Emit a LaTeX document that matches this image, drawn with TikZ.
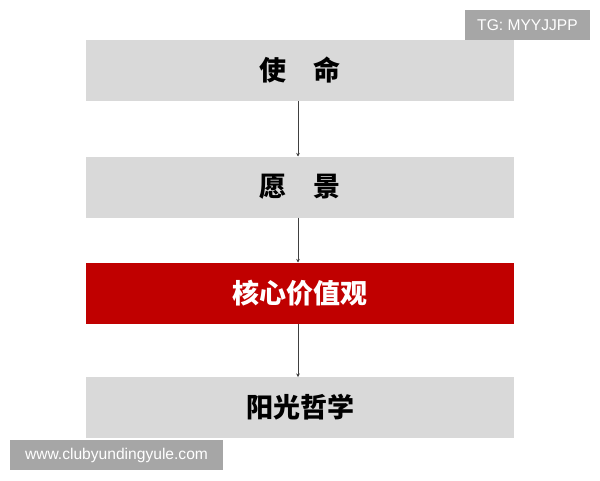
\documentclass[tikz,border=0pt]{standalone}
\usepackage{fontspec}
\setmainfont{Liberation Sans}
\newfontfamily\cjk{Noto Sans CJK SC Black}
\usetikzlibrary{arrows.meta}
\definecolor{boxgray}{HTML}{D9D9D9}
\definecolor{boxred}{HTML}{C00000}
\definecolor{markgray}{HTML}{A6A6A6}
\definecolor{arrowgray}{HTML}{404040}
\begin{document}
\begin{tikzpicture}[x=1pt,y=-1pt,
  band/.style={minimum width=428pt,minimum height=61pt,inner sep=0pt,outer sep=0pt,
    font=\cjk\fontsize{27}{27}\selectfont},
  grayband/.style={band,fill=boxgray,text=black},
  redband/.style={band,fill=boxred,text=white},
  flow/.style={draw=arrowgray,line width=0.9pt,-{Stealth[length=3.5pt,width=3.5pt]}},
  wmark/.style={fill=markgray,text=white,inner sep=0pt,outer sep=0pt,
    font=\fontsize{15.6}{16}\selectfont}]
\useasboundingbox (0,0) rectangle (600,480);
\fill[white] (0,0) rectangle (600,480);
\node[grayband] (mission) at (300,70.5) {使　命};
\node[grayband] (vision) at (300,187) {愿　景};
\node[redband] (values) at (300,293) {核心价值观};
\node[grayband] (philo) at (300,407.5) {阳光哲学};
\draw[flow] (mission.south -| 298,0) -- (vision.north -| 298,0);
\draw[flow] (vision.south -| 298,0) -- (values.north -| 298,0);
\draw[flow] (values.south -| 298,0) -- (philo.north -| 298,0);
\node[wmark,minimum width=125pt,minimum height=30pt] (tg) at (527.5,25) {TG: MYYJJPP};
\node[wmark,minimum width=213pt,minimum height=30pt] (site) at (116.5,455) {www.clubyundingyule.com};
\end{tikzpicture}
\end{document}
